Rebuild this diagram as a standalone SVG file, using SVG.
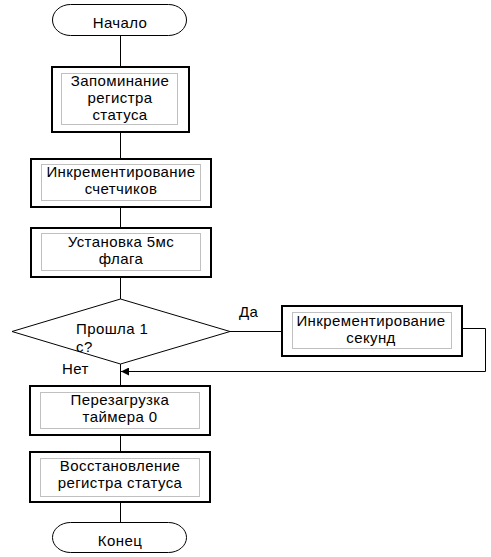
<svg xmlns="http://www.w3.org/2000/svg" width="491" height="557" viewBox="0 0 491 557">
<style>
.term{fill:#fff;stroke:#000;stroke-width:1}
.box{fill:#fff;stroke:#000;stroke-width:2}
.inner{fill:none;stroke:#c0c0c0;stroke-width:1}
.dec{fill:#fff;stroke:#000;stroke-width:1}
.ln{fill:none;stroke:#000;stroke-width:1}
text{font-family:"Liberation Sans",Arial,sans-serif;font-size:15px;letter-spacing:0.4px;fill:#000}
.c{text-anchor:middle}
</style>
<defs>
<marker id="arr" markerWidth="9" markerHeight="8" refX="8" refY="4" orient="auto" markerUnits="userSpaceOnUse">
<path d="M0,0 L8,4 L0,8 Z" fill="#000"/>
</marker>
</defs>
<rect width="491" height="557" fill="#fff"/>
<g id="connectors">
<line class="ln" x1="120.5" y1="35" x2="120.5" y2="67"/>
<line class="ln" x1="120.5" y1="132" x2="120.5" y2="159"/>
<line class="ln" x1="120.5" y1="207" x2="120.5" y2="228"/>
<line class="ln" x1="120.5" y1="277" x2="120.5" y2="299"/>
<line class="ln" x1="120.5" y1="364" x2="120.5" y2="386"/>
<line class="ln" x1="120.5" y1="435" x2="120.5" y2="452"/>
<line class="ln" x1="120.5" y1="502" x2="120.5" y2="522"/>
<line class="ln" x1="230" y1="331.5" x2="282" y2="331.5"/>
<polyline class="ln" points="462,328.5 485.5,328.5 485.5,371.5 121,371.5" marker-end="url(#arr)"/>
<text x="239" y="317">Да</text>
<text x="62" y="374">Нет</text>
</g>
<g id="start">
<rect class="term" x="52.5" y="4.5" width="134" height="31" rx="18" ry="15.5"/>
<text class="c" x="120" y="28">Начало</text>
</g>
<g id="save-status">
<rect class="box" x="52" y="67" width="137" height="65"/>
<rect class="inner" x="61.5" y="73.5" width="116" height="51"/>
<text class="c" x="120" y="86">Запоминание</text>
<text class="c" x="120" y="103">регистра</text>
<text class="c" x="120" y="120">статуса</text>
</g>
<g id="inc-counters">
<rect class="box" x="31" y="159" width="180" height="48"/>
<rect class="inner" x="41.5" y="164.5" width="159" height="36"/>
<text class="c" x="121" y="177">Инкрементирование</text>
<text class="c" x="121" y="194">счетчиков</text>
</g>
<g id="set-flag">
<rect class="box" x="31" y="228" width="180" height="49"/>
<rect class="inner" x="41.5" y="233.5" width="159" height="37"/>
<text class="c" x="121" y="247">Установка 5мс</text>
<text class="c" x="121" y="264">флага</text>
</g>
<g id="decision">
<polygon class="dec" points="120.5,299 230,331.5 120.5,364 12,331.5"/>
<text x="76" y="334">Прошла 1</text>
<text x="76" y="352">с?</text>
</g>
<g id="inc-seconds">
<rect class="box" x="282" y="306" width="180" height="50"/>
<rect class="inner" x="292.5" y="312.5" width="159" height="36"/>
<text class="c" x="371" y="326">Инкрементирование</text>
<text class="c" x="371" y="343">секунд</text>
</g>
<g id="reload-timer">
<rect class="box" x="30" y="386" width="180" height="49"/>
<rect class="inner" x="40.5" y="392.5" width="159" height="36"/>
<text class="c" x="120" y="405">Перезагрузка</text>
<text class="c" x="120" y="422">таймера 0</text>
</g>
<g id="restore-status">
<rect class="box" x="30" y="452" width="180" height="50"/>
<rect class="inner" x="40.5" y="458.5" width="159" height="38"/>
<text class="c" x="120" y="471">Восстановление</text>
<text class="c" x="120" y="488">регистра статуса</text>
</g>
<g id="end">
<rect class="term" x="52.5" y="522.5" width="134" height="30" rx="18" ry="15"/>
<text class="c" x="120" y="546">Конец</text>
</g>
</svg>
